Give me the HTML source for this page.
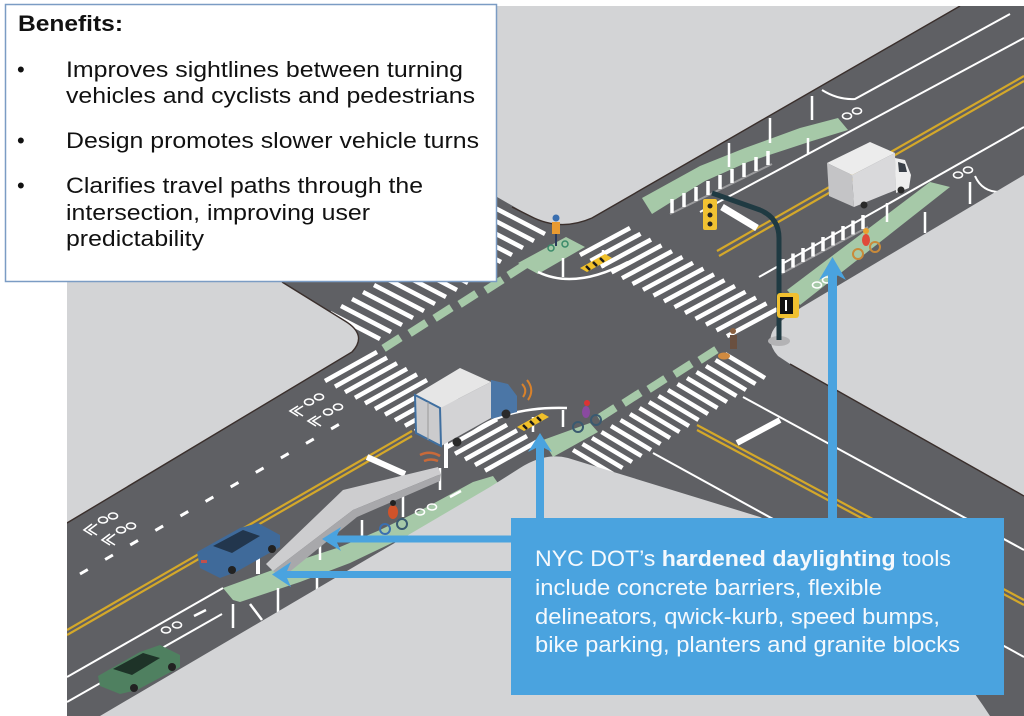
<!DOCTYPE html>
<html><head><meta charset="utf-8">
<style>
html,body{margin:0;padding:0;background:#fff;}
svg{display:block;}
text{font-family:"Liberation Sans",Arial,sans-serif;}
</style></head><body>
<svg width="1024" height="716" viewBox="0 0 1024 716" xmlns="http://www.w3.org/2000/svg">
<defs><clipPath id="ill"><rect x="67" y="6" width="957" height="710"/></clipPath></defs>
<rect width="1024" height="716" fill="#fff"/>
<g clip-path="url(#ill)">
<rect x="67" y="6" width="957" height="710" fill="#5f6064"/>

<!-- crosswalk W -->
<g stroke="#fff" stroke-width="4.5">
<line x1="330" y1="313" x2="380" y2="339"/><line x1="341" y1="306" x2="391" y2="332"/><line x1="352" y1="299" x2="402" y2="325"/><line x1="363" y1="292" x2="413" y2="318"/><line x1="374" y1="285" x2="424" y2="311"/><line x1="385" y1="278" x2="435" y2="304"/><line x1="396" y1="271" x2="446" y2="297"/><line x1="407" y1="264" x2="457" y2="290"/><line x1="418" y1="257" x2="468" y2="283"/><line x1="429" y1="250" x2="479" y2="276"/><line x1="440" y1="243" x2="490" y2="269"/><line x1="451" y1="236" x2="501" y2="262"/><line x1="462" y1="229" x2="512" y2="255"/><line x1="473" y1="222" x2="523" y2="248"/><line x1="484" y1="215" x2="534" y2="241"/><line x1="495" y1="208" x2="545" y2="234"/>
</g>
<!-- crosswalk N -->
<g stroke="#fff" stroke-width="4.5">
<line x1="580" y1="255" x2="630" y2="228"/><line x1="590.5" y1="260.8" x2="640.5" y2="233.8"/><line x1="601" y1="266.6" x2="651" y2="239.6"/><line x1="611.5" y1="272.4" x2="661.5" y2="245.4"/><line x1="622" y1="278.2" x2="672" y2="251.2"/><line x1="632.5" y1="284" x2="682.5" y2="257"/><line x1="643" y1="289.8" x2="693" y2="262.8"/><line x1="653.5" y1="295.6" x2="703.5" y2="268.6"/><line x1="664" y1="301.4" x2="714" y2="274.4"/><line x1="674.5" y1="307.2" x2="724.5" y2="280.2"/><line x1="685" y1="313" x2="735" y2="286"/><line x1="695.5" y1="318.8" x2="745.5" y2="291.8"/><line x1="706" y1="324.6" x2="756" y2="297.6"/><line x1="716.5" y1="330.4" x2="766.5" y2="303.4"/><line x1="727" y1="336.2" x2="777" y2="309.2"/>
</g>
<!-- crosswalk E -->
<g stroke="#fff" stroke-width="4.5">
<line x1="573" y1="450" x2="613" y2="474"/><line x1="582.5" y1="444" x2="622.5" y2="468"/><line x1="592" y1="438" x2="632" y2="462"/><line x1="601.5" y1="432" x2="641.5" y2="456"/><line x1="611" y1="426" x2="651" y2="450"/><line x1="620.5" y1="420" x2="660.5" y2="444"/><line x1="630" y1="414" x2="670" y2="438"/><line x1="639.5" y1="408" x2="679.5" y2="432"/><line x1="649" y1="402" x2="689" y2="426"/><line x1="658.5" y1="396" x2="698.5" y2="420"/><line x1="668" y1="390" x2="708" y2="414"/><line x1="677.5" y1="384" x2="717.5" y2="408"/><line x1="687" y1="378" x2="727" y2="402"/><line x1="696.5" y1="372" x2="736.5" y2="396"/><line x1="706" y1="366" x2="746" y2="390"/><line x1="715.5" y1="360" x2="755.5" y2="384"/><line x1="725" y1="354" x2="765" y2="378"/>
</g>
<!-- crosswalk S -->
<g stroke="#fff" stroke-width="4.5">
<line x1="325" y1="381" x2="377" y2="352"/><line x1="335" y1="386.6" x2="387" y2="357.6"/><line x1="345" y1="392.2" x2="397" y2="363.2"/><line x1="355" y1="397.8" x2="407" y2="368.8"/><line x1="365" y1="403.4" x2="417" y2="374.4"/><line x1="375" y1="409" x2="427" y2="380"/><line x1="385" y1="414.6" x2="437" y2="385.6"/><line x1="395" y1="420.2" x2="447" y2="391.2"/><line x1="405" y1="425.8" x2="457" y2="396.8"/><line x1="415" y1="431.4" x2="467" y2="402.4"/><line x1="425" y1="437" x2="477" y2="408"/><line x1="435" y1="442.6" x2="487" y2="413.6"/><line x1="445" y1="448.2" x2="497" y2="419.2"/><line x1="455" y1="453.8" x2="507" y2="424.8"/><line x1="465" y1="459.4" x2="517" y2="430.4"/><line x1="475" y1="465" x2="527" y2="436"/><line x1="485" y1="470.6" x2="537" y2="441.6"/>
</g>
<!-- green crossing blocks -->
<g stroke="#a6c9a8" stroke-width="8">
<line x1="383.6" y1="348.4" x2="400.4" y2="337.6"/><line x1="409.6" y1="333.4" x2="426.4" y2="322.6"/><line x1="434.6" y1="318.4" x2="451.4" y2="307.6"/><line x1="459.6" y1="304.4" x2="476.4" y2="293.6"/><line x1="485.6" y1="290.4" x2="502.4" y2="279.6"/><line x1="508.6" y1="275.4" x2="525.4" y2="264.6"/>
<line x1="598.6" y1="418.4" x2="615.4" y2="407.6"/><line x1="623.6" y1="403.4" x2="640.4" y2="392.6"/><line x1="648.6" y1="389.4" x2="665.4" y2="378.6"/><line x1="674.6" y1="374.4" x2="691.4" y2="363.6"/><line x1="699.6" y1="360.4" x2="716.4" y2="349.6"/>
</g>
<polygon points="518,263 566,237 585,247 538,274" fill="#a6c9a8"/>
<polygon points="543,440 590,423 598,432 553,457" fill="#a6c9a8"/>

<!-- lower-left arm markings -->
<line x1="80" y1="574" x2="350" y2="418" stroke="#fff" stroke-width="3" stroke-dasharray="9 20"/>
<line x1="67" y1="630" x2="412" y2="431" stroke="#d4a82a" stroke-width="2.2"/>
<line x1="67" y1="635" x2="412" y2="436" stroke="#d4a82a" stroke-width="2.2"/>
<line x1="67" y1="677" x2="223" y2="588" stroke="#fff" stroke-width="2"/>
<line x1="67" y1="702" x2="222" y2="614" stroke="#fff" stroke-width="2"/>
<polygon points="223,588 300,560 340,547 380,530 427,507 473,482 493,476 500,486 440,520 350,563 300,582 240,602 233,600" fill="#a6c9a8"/>
<line x1="367" y1="457" x2="405" y2="474" stroke="#fff" stroke-width="6"/>
<g stroke="#fff" stroke-width="2.5">
<line x1="233" y1="604" x2="233" y2="628"/><line x1="278" y1="588" x2="278" y2="612"/><line x1="317" y1="572" x2="317" y2="592"/><line x1="320" y1="543" x2="320" y2="560"/><line x1="362" y1="520" x2="362" y2="537"/><line x1="403" y1="493" x2="403" y2="517"/><line x1="440" y1="468" x2="440" y2="490"/><line x1="250" y1="604" x2="262" y2="620"/>
</g>
<g stroke="#fff" stroke-width="1.6" fill="none">
<polyline points="92,524 84,530 92,535"/><polyline points="97,524 89,530 97,535"/>
<polyline points="110,534 102,540 110,545"/><polyline points="115,534 107,540 115,545"/>
<ellipse cx="103" cy="520" rx="4.5" ry="3"/><ellipse cx="113" cy="516" rx="4.5" ry="3"/>
<ellipse cx="121" cy="530" rx="4.5" ry="3"/><ellipse cx="131" cy="526" rx="4.5" ry="3"/>
<polyline points="298,406 290,411 298,416"/><polyline points="303,406 295,411 303,416"/>
<polyline points="316,416 308,421 316,426"/><polyline points="321,416 313,421 321,426"/>
<ellipse cx="309" cy="402" rx="4.5" ry="3"/><ellipse cx="319" cy="397" rx="4.5" ry="3"/>
<ellipse cx="328" cy="412" rx="4.5" ry="3"/><ellipse cx="338" cy="407" rx="4.5" ry="3"/>
<ellipse cx="166" cy="630" rx="4.5" ry="3"/><ellipse cx="177" cy="625" rx="4.5" ry="3"/>
<ellipse cx="420" cy="512" rx="4.5" ry="3"/><ellipse cx="432" cy="507" rx="4.5" ry="3"/>
</g>
<line x1="194" y1="616" x2="206" y2="610" stroke="#fff" stroke-width="2.5"/>
<line x1="450" y1="497" x2="461" y2="491" stroke="#fff" stroke-width="2.5"/>

<!-- upper-right arm markings -->
<polygon points="642,198 700,166 745,148 800,128 838,118 848,130 812,141 748,162 705,181 652,214" fill="#a6c9a8"/>
<polygon points="787,290 930,182 950,187 800,305" fill="#a6c9a8"/>
<path d="M822,90 Q838,100 855,99 L1010,14" stroke="#fff" stroke-width="2" fill="none"/>
<line x1="700" y1="212" x2="1024" y2="38" stroke="#fff" stroke-width="2"/>
<line x1="717" y1="251" x2="1024" y2="76" stroke="#d4a82a" stroke-width="2.2"/>
<line x1="719" y1="256" x2="1024" y2="81" stroke="#d4a82a" stroke-width="2.2"/>
<line x1="759" y1="277" x2="1024" y2="127" stroke="#fff" stroke-width="2"/>
<path d="M975,176 Q982,192 1000,192 L1024,180" stroke="#fff" stroke-width="2" fill="none"/>
<line x1="722" y1="207" x2="757" y2="228" stroke="#fff" stroke-width="7"/>
<g stroke="#fff" stroke-width="2.5">
<line x1="729" y1="143" x2="729" y2="167"/><line x1="770" y1="118" x2="770" y2="143"/><line x1="812" y1="96" x2="812" y2="120"/><line x1="808" y1="138" x2="808" y2="154"/><line x1="887" y1="203" x2="887" y2="222"/><line x1="925" y1="212" x2="925" y2="233"/><line x1="970" y1="182" x2="970" y2="204"/>
</g>
<g stroke="#fff" stroke-width="1.6" fill="none">
<ellipse cx="847" cy="116" rx="4.5" ry="3"/><ellipse cx="857" cy="111" rx="4.5" ry="3"/>
<ellipse cx="958" cy="175" rx="4.5" ry="3"/><ellipse cx="968" cy="170" rx="4.5" ry="3"/>
<ellipse cx="817" cy="285" rx="4.5" ry="3"/><ellipse cx="827" cy="280" rx="4.5" ry="3"/>
</g>

<!-- lower-right arm markings -->
<line x1="697" y1="425" x2="1024" y2="600" stroke="#d4a82a" stroke-width="2.2"/>
<line x1="697" y1="430" x2="1024" y2="605" stroke="#d4a82a" stroke-width="2.2"/>
<line x1="743" y1="397" x2="1024" y2="550" stroke="#fff" stroke-width="2"/>
<line x1="653" y1="453" x2="1024" y2="657" stroke="#fff" stroke-width="2"/>
<line x1="737" y1="443" x2="780" y2="420" stroke="#fff" stroke-width="6"/>

<!-- daylight paint curves -->
<path d="M538,272 Q575,290 628,262" stroke="#fff" stroke-width="2.5" fill="none"/>
<line x1="563" y1="258" x2="563" y2="277" stroke="#fff" stroke-width="2.5"/>
<line x1="603" y1="250" x2="603" y2="268" stroke="#fff" stroke-width="2.5"/>
<path d="M470,434 Q505,406 567,408" stroke="#fff" stroke-width="2.5" fill="none"/>
<line x1="533" y1="417" x2="533" y2="432" stroke="#fff" stroke-width="2.5"/>
<line x1="563" y1="410" x2="563" y2="427" stroke="#fff" stroke-width="2.5"/>

<!-- blocks (sidewalks) -->
<path d="M166,6 L960,6 L592,218 Q560,232 530,216 Z" fill="#d3d4d6"/>
<path d="M512,207 L530,216 Q560,232 592,218 L960,6" stroke="#3a2f2c" stroke-width="1.4" fill="none"/>
<path d="M67,282 L282,282 L345,321 Q368,335 352,352 L67,523 Z" fill="#d3d4d6"/>
<path d="M67,523 L352,352 Q368,335 345,321 L282,282" stroke="#3a2f2c" stroke-width="1.4" fill="none"/>
<path d="M100,716 L490,487 L520,468 Q545,452 568,458 L760,517 Q905,585 990,716 Z" fill="#d3d4d6"/>
<path d="M1024,175 L802,307 L785,318 Q760,336 778,356 L790,364 L1024,496 Z" fill="#d3d4d6"/>
<line x1="790" y1="364" x2="1024" y2="496" stroke="#3a2f2c" stroke-width="1.4"/>

<!-- speed bumps -->
<polygon points="580,268 605,254 612,258 587,272" fill="#f0c02a"/>
<g stroke="#1a1a1a" stroke-width="2.5"><line x1="586" y1="266" x2="590" y2="270"/><line x1="593" y1="262" x2="597" y2="266"/><line x1="600" y1="258" x2="604" y2="262"/></g>
<polygon points="517,427 542,413 549,417 524,431" fill="#f0c02a"/>
<g stroke="#1a1a1a" stroke-width="2.5"><line x1="523" y1="425" x2="527" y2="429"/><line x1="530" y1="421" x2="534" y2="425"/><line x1="537" y1="417" x2="541" y2="421"/></g>

<!-- bollard rows -->
<line x1="670" y1="214" x2="772" y2="164" stroke="#9a9a9c" stroke-width="2"/>
<g stroke="#fff" stroke-width="3.5">
<line x1="672" y1="213" x2="672" y2="199"/><line x1="684" y1="207" x2="684" y2="193"/><line x1="696" y1="201" x2="696" y2="187"/><line x1="708" y1="195" x2="708" y2="181"/><line x1="720" y1="189" x2="720" y2="175"/><line x1="732" y1="183" x2="732" y2="169"/><line x1="744" y1="177" x2="744" y2="163"/><line x1="756" y1="171" x2="756" y2="157"/><line x1="768" y1="165" x2="768" y2="151"/>
</g>
<line x1="777" y1="276" x2="868" y2="227" stroke="#9a9a9c" stroke-width="2"/>
<g stroke="#fff" stroke-width="3.5">
<line x1="783" y1="273" x2="783" y2="259"/><line x1="793" y1="267.5" x2="793" y2="253.5"/><line x1="803" y1="262" x2="803" y2="248"/><line x1="813" y1="256.5" x2="813" y2="242.5"/><line x1="823" y1="251" x2="823" y2="237"/><line x1="833" y1="245.5" x2="833" y2="231.5"/><line x1="843" y1="240" x2="843" y2="226"/><line x1="853" y1="234.5" x2="853" y2="220.5"/><line x1="863" y1="229" x2="863" y2="215"/>
</g>

<!-- concrete barrier -->
<polygon points="266,564 343,490 438,467 441,474 353,510 273,571" fill="#cdcdcf"/>
<polygon points="273,571 353,510 441,474 440,481 357,517 282,578" fill="#a8a8ab"/>

<!-- delineator posts -->
<g stroke="#fff" stroke-width="4"><line x1="258" y1="545" x2="258" y2="574"/><line x1="446" y1="440" x2="446" y2="468"/></g>

<!-- truck center -->
<polygon points="415,395 460,368 491,382 440,408" fill="#e6e6e6"/>
<polygon points="440,408 491,382 491,418 441,446" fill="#d3d3d5"/>
<polygon points="415,395 440,408 441,446 416,433" fill="#cbcbcd" stroke="#3f6fa0" stroke-width="2"/>
<line x1="428" y1="402" x2="428" y2="440" stroke="#999" stroke-width="1"/>
<polygon points="491,380 508,384 517,396 517,412 491,419" fill="#4b76a6"/>
<circle cx="506" cy="414" r="4.5" fill="#2a2a2a"/><circle cx="457" cy="442" r="4.5" fill="#2a2a2a"/>
<path d="M522,384 Q528,390 523,397 M527,380 Q535,390 528,400" stroke="#d9822b" stroke-width="2" fill="none"/>
<path d="M420,455 Q430,450 440,456 M424,461 Q431,458 438,461" stroke="#c86a3a" stroke-width="2.5" fill="none"/>

<!-- truck top right -->
<polygon points="827,163 870,142 895,153 852,175" fill="#ececec"/>
<polygon points="852,175 895,153 896,190 854,207" fill="#d9d9db"/>
<polygon points="827,163 852,175 854,207 829,196" fill="#c4c4c6"/>
<polygon points="895,158 905,160 911,175 909,188 896,193" fill="#eeeeee"/>
<polygon points="898,162 905,164 907,172 899,172" fill="#3a4048"/>
<circle cx="901" cy="190" r="3.5" fill="#2a2a2a"/><circle cx="864" cy="205" r="3.5" fill="#2a2a2a"/>

<!-- blue car -->
<polygon points="197,552 240,528 258,523 280,535 280,547 236,572 220,578 200,568" fill="#3f6a9a"/>
<polygon points="213,546 243,530 260,536 232,553" fill="#22364d"/>
<circle cx="232" cy="570" r="4" fill="#222"/><circle cx="272" cy="549" r="4" fill="#222"/>
<rect x="201" y="560" width="6" height="3" fill="#c0504d"/>
<!-- green car -->
<polygon points="98,676 140,652 160,645 180,655 180,667 137,690 120,694 100,686" fill="#4f8060"/>
<polygon points="113,669 143,653 160,658 132,675" fill="#1e3328"/>
<circle cx="134" cy="688" r="4" fill="#222"/><circle cx="172" cy="667" r="4" fill="#222"/>

<!-- cyclists -->
<g>
<circle cx="385" cy="529" r="5" fill="none" stroke="#3a6fb0" stroke-width="2"/><circle cx="402" cy="524" r="5" fill="none" stroke="#3a5a70" stroke-width="2"/>
<ellipse cx="393" cy="512" rx="5" ry="7" fill="#d0532a"/><circle cx="393" cy="503" r="3" fill="#222"/>
<circle cx="578" cy="427" r="5" fill="none" stroke="#3a5a70" stroke-width="2"/><circle cx="596" cy="420" r="5" fill="none" stroke="#3a5a70" stroke-width="2"/>
<ellipse cx="586" cy="412" rx="4" ry="6" fill="#8a4aa0"/><circle cx="587" cy="403" r="3" fill="#d33"/>
<circle cx="858" cy="254" r="5" fill="none" stroke="#c98a3a" stroke-width="2"/><circle cx="875" cy="247" r="5" fill="none" stroke="#c98a3a" stroke-width="2"/>
<ellipse cx="866" cy="240" rx="4" ry="6" fill="#e04a3a"/><circle cx="866" cy="231" r="3" fill="#e8a030"/>
<rect x="552" y="222" width="8" height="12" fill="#e89a30"/><circle cx="556" cy="218" r="3.5" fill="#3a6fb0"/>
<line x1="556" y1="234" x2="556" y2="246" stroke="#2a3a5a" stroke-width="2"/><circle cx="551" cy="248" r="3" fill="none" stroke="#3a8a6a" stroke-width="1.5"/><circle cx="565" cy="244" r="3" fill="none" stroke="#3a8a6a" stroke-width="1.5"/>
<rect x="730" y="335" width="7" height="14" fill="#6a5040"/><circle cx="733" cy="331" r="3" fill="#8a6040"/>
<ellipse cx="724" cy="356" rx="6" ry="3.5" fill="#d08a40"/>
</g>

<!-- signal -->
<ellipse cx="779" cy="341" rx="11" ry="5" fill="#b3b3b5"/>
<path d="M779,340 L779,238 Q779,218 760,210 L712,193" stroke="#1f3a42" stroke-width="5" fill="none"/>
<rect x="703" y="199" width="14" height="31" rx="2" fill="#f1c232"/>
<circle cx="710" cy="206" r="2.5" fill="#222"/><circle cx="710" cy="215" r="2.5" fill="#222"/><circle cx="710" cy="224" r="2.5" fill="#222"/>
<rect x="777" y="293" width="22" height="25" rx="3" fill="#f0c030"/>
<rect x="780" y="297" width="13" height="17" fill="#111"/>
<line x1="786" y1="300" x2="786" y2="311" stroke="#fff" stroke-width="2"/>
</g>

<!-- benefits box -->
<rect x="5.5" y="4.5" width="491" height="277" fill="#fff" stroke="#7b9cc4" stroke-width="1.5"/>
<g fill="#111" font-size="22">
<text x="18" y="31" font-weight="bold" textLength="105" lengthAdjust="spacingAndGlyphs">Benefits:</text>
<text x="17" y="77">•</text>
<text x="66" y="77" textLength="397" lengthAdjust="spacingAndGlyphs">Improves sightlines between turning</text>
<text x="66" y="103" textLength="409" lengthAdjust="spacingAndGlyphs">vehicles and cyclists and pedestrians</text>
<text x="17" y="148">•</text>
<text x="66" y="148" textLength="413" lengthAdjust="spacingAndGlyphs">Design promotes slower vehicle turns</text>
<text x="17" y="193">•</text>
<text x="66" y="193" textLength="357" lengthAdjust="spacingAndGlyphs">Clarifies travel paths through the</text>
<text x="66" y="220" textLength="304" lengthAdjust="spacingAndGlyphs">intersection, improving user</text>
<text x="66" y="246" textLength="138" lengthAdjust="spacingAndGlyphs">predictability</text>
</g>

<!-- arrows -->
<g fill="#4aa3df">
<polygon points="832.5,257 846,280 837,275 837,520 828,520 828,275 819,280"/>
<polygon points="540,433 552,452 544,448 544,520 536,520 536,448 528,452"/>
<polygon points="322,539 341,527 337,535.5 513,535.5 513,542.5 337,542.5 341,551"/>
<polygon points="272,574.5 291,562 287,571 513,571 513,578 287,578 291,587"/>
</g>

<!-- blue box -->
<rect x="511" y="518" width="493" height="177" fill="#4aa3df"/>
<g fill="#f5f9fd" font-size="22.5">
<text x="535" y="566" textLength="416" lengthAdjust="spacingAndGlyphs">NYC DOT’s <tspan font-weight="bold">hardened daylighting</tspan> tools</text>
<text x="535" y="595" textLength="347" lengthAdjust="spacingAndGlyphs">include concrete barriers, flexible</text>
<text x="535" y="624" textLength="405" lengthAdjust="spacingAndGlyphs">delineators, qwick-kurb, speed bumps,</text>
<text x="535" y="652" textLength="425" lengthAdjust="spacingAndGlyphs">bike parking, planters and granite blocks</text>
</g>
</svg>
</body></html>
